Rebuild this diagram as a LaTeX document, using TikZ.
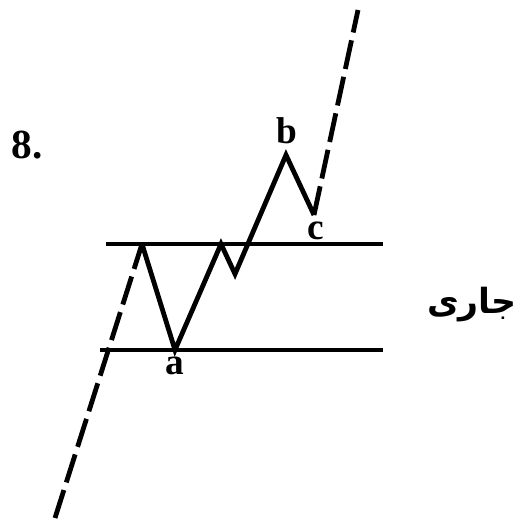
\documentclass[tikz,border=0pt]{standalone}
\usepackage{fontspec}
\setmainfont{Liberation Serif}
\newfontfamily\arabicfont[Script=Arabic]{DejaVu Sans}
\TeXXeTstate=1
\begin{document}
\begin{tikzpicture}[x=0.75pt,y=-0.75pt,
  wave/.style={line width=3.6pt,line join=miter},
  guide/.style={line width=3pt},
  trend/.style={line width=3.6pt,dash pattern=on 22pt off 6pt},
  lbl/.style={font=\bfseries\fontsize{28}{30}\selectfont,inner sep=0pt}]
\useasboundingbox (0,0) rectangle (525,524);
% guide lines
\coordinate (u1) at (106,244);
\coordinate (u2) at (383,244);
\coordinate (l1) at (100,350);
\coordinate (l2) at (383,350);
\draw[guide] (u1) -- (u2);
\draw[guide] (l1) -- (l2);
% wave vertices
\coordinate (s) at (55,518);
\coordinate (p1) at (142,244);
\coordinate (a) at (175,350);
\coordinate (p2) at (221,244);
\coordinate (d) at (235,274);
\coordinate (b) at (286,155);
\coordinate (c) at (314,215);
\coordinate (e) at (358,10);
\draw[trend] (s) -- (p1);
\draw[wave] (p1) -- (a) -- (p2) -- (d) -- (b) -- (c);
\draw[trend] (c) -- (e);
% labels
\node[lbl,font=\bfseries\fontsize{31}{33}\selectfont] (n8) at (27,145) {8.};
\node[lbl] (la) at (175,366) {a};
\node[lbl] (lb) at (287,131) {b};
\node[lbl] (lc) at (316,231) {c};
\node[inner sep=0pt,font=\arabicfont\bfseries\fontsize{26}{30}\selectfont] (ar) at (472,305) {\beginR جاری\endR};
\end{tikzpicture}
\end{document}
